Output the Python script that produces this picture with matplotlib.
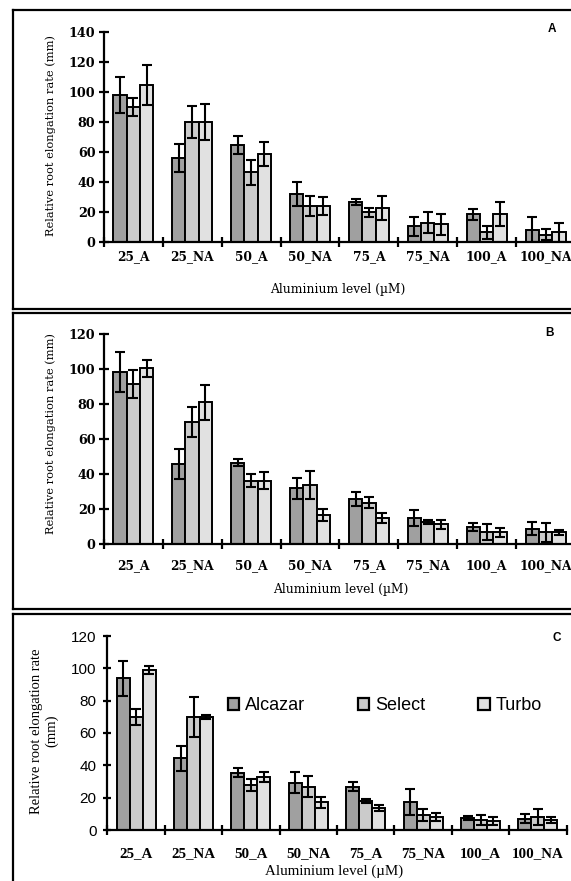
import matplotlib
matplotlib.use('Agg')
import matplotlib.pyplot as plt
from matplotlib.lines import Line2D
from matplotlib.font_manager import FontProperties
import numpy as np

# ---------------- data ----------------
categories = ['25_A', '25_NA', '50_A', '50_NA', '75_A', '75_NA', '100_A', '100_NA']
series_names = ['Alcazar', 'Select', 'Turbo']

# Panel A
a_alcazar = [98.4, 56.0, 65.0, 32.0, 26.5, 10.5, 18.5, 8.0]
a_alcazar_err = [12.0, 9.5, 6.0, 8.0, 2.0, 6.5, 3.5, 9.0]
a_select = [90.0, 80.0, 46.5, 24.0, 20.0, 13.0, 6.5, 5.0]
a_select_err = [6.0, 10.7, 8.3, 6.7, 3.0, 6.8, 4.5, 3.7]
a_turbo = [105.0, 80.0, 58.5, 24.0, 22.5, 12.0, 18.5, 6.5]
a_turbo_err = [13.5, 12.0, 8.0, 6.0, 8.0, 7.0, 8.0, 6.5]

# Panel B
b_alcazar = [98.3, 45.7, 46.7, 32.0, 26.1, 14.9, 10.1, 9.0]
b_alcazar_err = [11.5, 8.5, 2.0, 6.0, 4.0, 4.7, 2.3, 3.8]
b_select = [91.4, 69.7, 36.4, 34.1, 23.8, 12.6, 6.9, 6.9]
b_select_err = [8.0, 8.5, 3.8, 8.0, 3.0, 1.2, 4.5, 5.3]
b_turbo = [100.6, 81.1, 36.4, 17.0, 14.9, 11.4, 6.9, 6.9]
b_turbo_err = [5.0, 9.8, 5.0, 3.4, 3.0, 2.5, 2.5, 1.5]

# Panel C
c_alcazar = [93.8, 44.3, 35.5, 29.3, 26.8, 17.1, 7.2, 7.0]
c_alcazar_err = [11.0, 7.5, 2.6, 6.6, 2.9, 8.0, 1.2, 2.6]
c_select = [70.1, 70.1, 27.8, 26.8, 18.1, 9.3, 6.2, 8.2]
c_select_err = [5.0, 12.4, 3.5, 6.5, 1.2, 3.5, 3.0, 5.0]
c_turbo = [99.0, 70.1, 33.0, 17.1, 13.4, 8.2, 5.8, 6.2]
c_turbo_err = [2.5, 1.2, 3.0, 3.2, 1.8, 2.5, 2.5, 2.1]

colors = ['#a0a0a0', '#cbcbcb', '#e1e1e1']

W, H = 571, 881
fig = plt.figure(figsize=(W / 100, H / 100), dpi=100)


def px_rect(left, top_px, width, bottom_px):
    return [left / W, 1 - bottom_px / H, width / W, (bottom_px - top_px) / H]


def frame(top, bottom):
    kw = dict(transform=fig.transFigure, color='black', lw=1.6)
    fig.add_artist(Line2D([13 / W, 13 / W], [1 - top / H, 1 - bottom / H], **kw))
    fig.add_artist(Line2D([13 / W, 1.02], [1 - top / H, 1 - top / H], **kw))
    if bottom < H:
        fig.add_artist(Line2D([13 / W, 1.02], [1 - bottom / H, 1 - bottom / H], **kw))


def panel(rect, vals, errs, ymax, tickfont, ticksize, xtickfont, xticksize,
          ticklen, ylabelpad_pt, xpad_pt):
    ax = fig.add_axes(rect)
    x = np.arange(len(categories)) + 0.5
    bw = 0.226
    for k in range(3):
        ax.bar(x + (k - 1) * bw, vals[k], bw, yerr=errs[k], color=colors[k],
               edgecolor='black', linewidth=1.4, capsize=3.6,
               error_kw=dict(elinewidth=1.5, capthick=1.5, ecolor='black'),
               label=series_names[k], zorder=2)
    ax.set_xlim(0, len(categories))
    ax.set_ylim(0, ymax)
    ax.set_yticks(np.arange(0, ymax + 1, 20))
    ax.set_xticks(x)
    ax.set_xticklabels(categories)
    ax.set_xticks(np.arange(0, len(categories) + 1), minor=True)
    for s in ['top', 'right']:
        ax.spines[s].set_visible(False)
    for s in ['left', 'bottom']:
        ax.spines[s].set_linewidth(1.6)
    ax.tick_params(axis='y', direction='inout', length=ticklen, width=1.6,
                   pad=ylabelpad_pt)
    ax.tick_params(axis='x', which='major', length=0, pad=xpad_pt)
    ax.tick_params(axis='x', which='minor', direction='inout', length=7, width=1.6)
    for lab in ax.get_yticklabels():
        lab.set_fontproperties(tickfont)
        lab.set_fontsize(ticksize)
    for lab in ax.get_xticklabels():
        lab.set_fontproperties(xtickfont)
        lab.set_fontsize(xticksize)
    ax.patch.set_alpha(0)
    return ax


serif_b = FontProperties(family='DejaVu Serif', weight='bold')
lib_serif_b = FontProperties(family='Liberation Serif', weight='bold')
sans = FontProperties(family='Liberation Sans')

# frames
frame(10, 308.5)
frame(312.5, 608.5)
frame(613.5, H + 10)

# Panel A
axA = panel(px_rect(103.8, 32.3, 471.2, 242), [a_alcazar, a_select, a_turbo],
            [a_alcazar_err, a_select_err, a_turbo_err], 140,
            serif_b, 9.2, serif_b, 8.8, 7, 2.5, 5.5)
# Panel B
axB = panel(px_rect(103.8, 334.3, 471.2, 544.3), [b_alcazar, b_select, b_turbo],
            [b_alcazar_err, b_select_err, b_turbo_err], 120,
            serif_b, 9.2, serif_b, 8.8, 7, 2.5, 11.0)
# Panel C
axC = panel(px_rect(107.4, 636, 459.2, 830), [c_alcazar, c_select, c_turbo],
            [c_alcazar_err, c_select_err, c_turbo_err], 120,
            sans, 11, lib_serif_b, 10.8, 5.5, 5.0, 12.0)

# axis labels
fig.text(51 / W, 1 - 136 / H, 'Relative root elongation rate (mm)', rotation=90,
         ha='center', va='center', family='DejaVu Serif', fontsize=8.2)
fig.text(338 / W, 1 - 289 / H, 'Aluminium level (\u00b5M)', ha='center', va='center',
         family='DejaVu Serif', fontsize=8.8)
fig.text(51 / W, 1 - 434 / H, 'Relative root elongation rate (mm)', rotation=90,
         ha='center', va='center', family='DejaVu Serif', fontsize=8.2)
fig.text(341 / W, 1 - 589 / H, 'Aluminium level (\u00b5M)', ha='center', va='center',
         family='DejaVu Serif', fontsize=8.8)
fig.text(44 / W, 1 - 731 / H, 'Relative root elongation rate\n(mm)', rotation=90,
         ha='center', va='center', multialignment='center',
         family='Liberation Serif', fontsize=10.5, linespacing=1.2)
fig.text(334 / W, 1 - 871 / H, 'Aluminium level (\u00b5M)', ha='center', va='center',
         family='Liberation Serif', fontsize=10.8)

# panel letters
for letter, xx, yy in [('A', 552, 29), ('B', 549, 333), ('C', 557, 638)]:
    fig.text(xx / W, 1 - yy / H, letter, ha='center', va='center',
             family='Liberation Sans', weight='bold', fontsize=8.5)

# legend in panel C
leg = axC.legend(ncol=3, frameon=False, loc='center left',
                 bbox_to_anchor=(227.6 / W, 1 - 706 / H),
                 bbox_transform=fig.transFigure,
                 prop=dict(family='Liberation Sans', size=13),
                 handlelength=0.62, handleheight=0.62, handletextpad=0.32,
                 columnspacing=2.95, borderpad=0, borderaxespad=0)
for h in leg.legend_handles:
    h.set_linewidth(1.6)

fig.savefig('out.png', dpi=100)
